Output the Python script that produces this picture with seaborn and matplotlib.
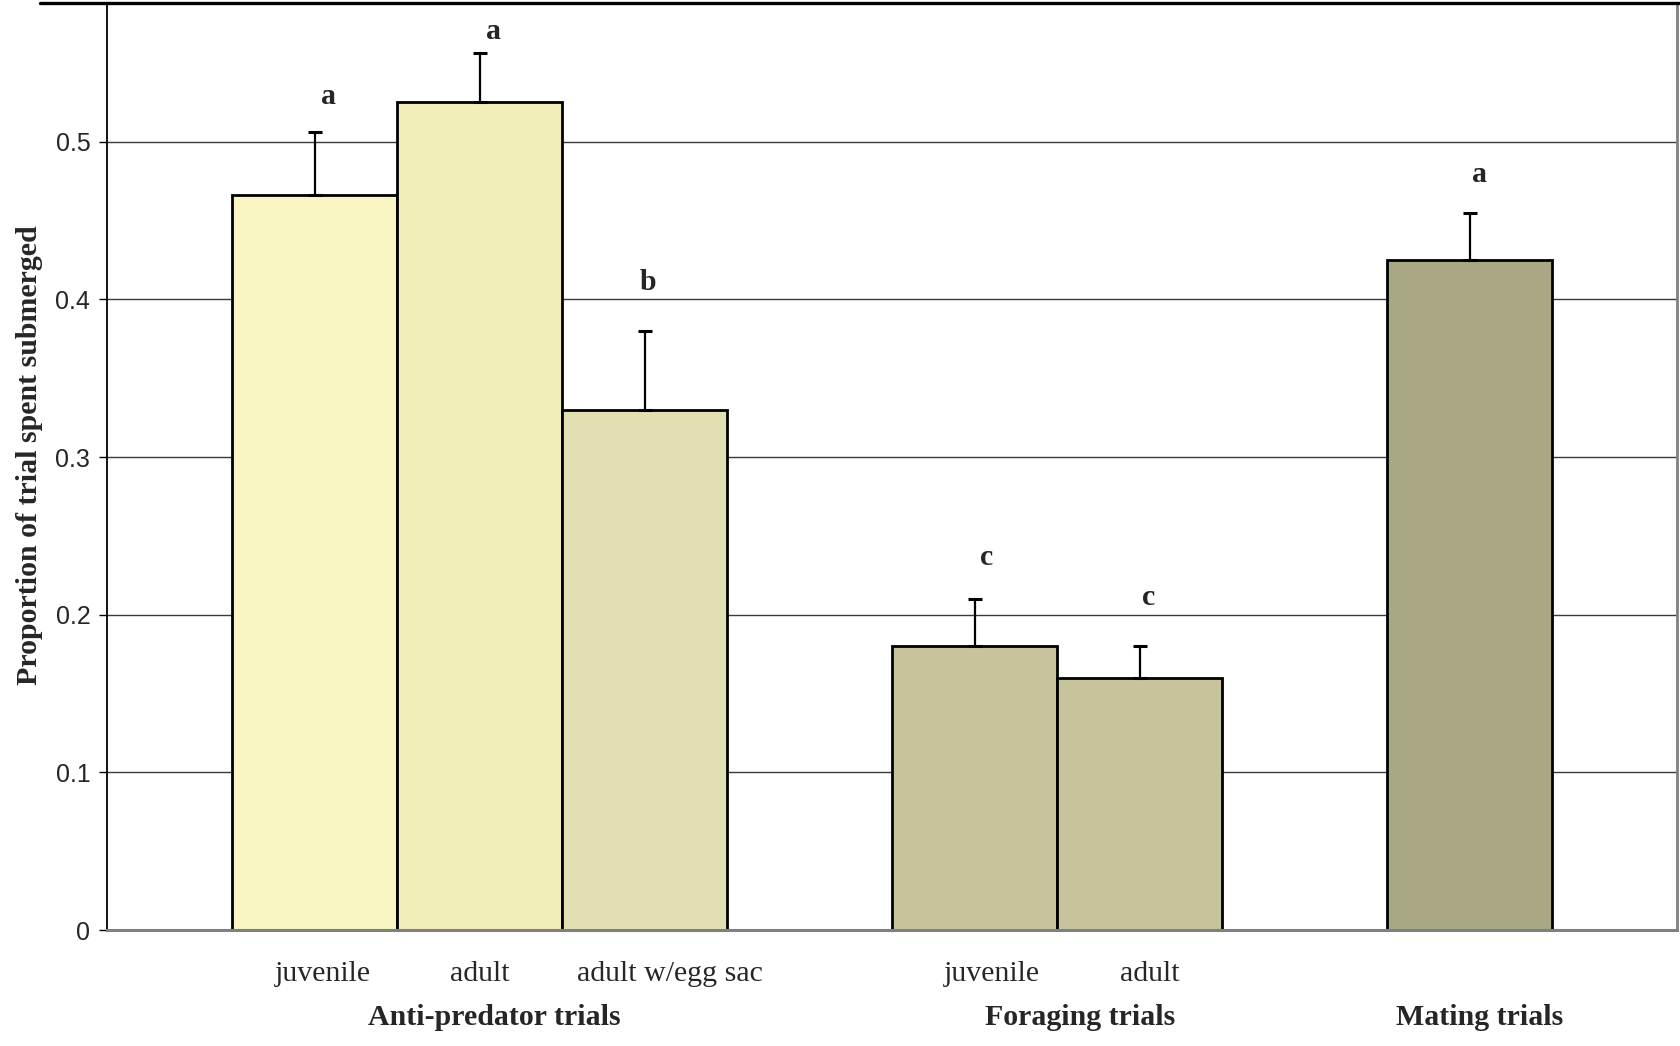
import matplotlib
matplotlib.use("Agg")
import matplotlib.pyplot as plt
from matplotlib.lines import Line2D
import seaborn as sns
import pandas as pd

# ---------------- data ----------------
groups = ["Anti-predator trials", "Anti-predator trials", "Anti-predator trials",
          "Foraging trials", "Foraging trials", "Mating trials"]
bar_labels = ["juvenile", "adult", "adult w/egg sac", "juvenile", "adult", ""]
means = [0.466, 0.525, 0.330, 0.180, 0.160, 0.425]
errors = [0.040, 0.031, 0.050, 0.030, 0.020, 0.030]
letters = ["a", "a", "b", "c", "c", "a"]
group_names = ["Anti-predator trials", "Foraging trials", "Mating trials"]
y_ticks = [0, 0.1, 0.2, 0.3, 0.4, 0.5]
y_tick_labels = ["0", "0.1", "0.2", "0.3", "0.4", "0.5"]

# ---------------- layout / style ----------------
positions = [0, 1, 2, 4, 5, 7]          # slot of each bar (a blank slot between groups)
bar_colors = ["#F9F6C3", "#F1EEBA", "#E2E0B3", "#C6C39D", "#C6C39D", "#AAA785"]
label_dx = [0.05, 0.0, 0.15, 0.10, 0.06]  # small horizontal offsets of bar labels
group_x = [1.09, 4.64, 7.06]
letter_dx = [0.08, 0.08, 0.02, 0.07, 0.05, 0.06]
letter_gap = [0.0225, 0.014, 0.031, 0.026, 0.031, 0.024]
SERIF = ["Liberation Serif", "DejaVu Serif"]
SANS = ["Liberation Sans", "DejaVu Sans"]

df = pd.DataFrame({"pos": positions, "mean": means, "key": [str(i) for i in range(len(means))]})

sns.set_theme(style="white")
plt.rcParams["font.family"] = SERIF

fig = plt.figure(figsize=(16.8, 10.46), dpi=100)
ax = fig.add_axes([107 / 1680, (1046 - 930) / 1046, 1570 / 1680, 927 / 1046])

ax.set_axisbelow(True)
for t in y_ticks[1:]:
    ax.axhline(t, color="#3a3a3a", lw=1.0, zorder=0)

sns.barplot(data=df, x="pos", y="mean", hue="key", palette=bar_colors,
            native_scale=True, width=1.0, dodge=False, errorbar=None,
            saturation=1.0, edgecolor="black", linewidth=2.0, legend=False,
            ax=ax, zorder=2)

ax.errorbar(positions, means, yerr=[[0] * len(errors), errors], fmt="none",
            ecolor="black", elinewidth=1.6, capsize=5, capthick=2.2, zorder=3)

ax.set_xlim(-1.26, 8.255)
ax.set_ylim(0, 0.588)
ax.set_xticks([])
ax.set_yticks(y_ticks)
ax.set_yticklabels(y_tick_labels, family=SANS, fontsize=18)
ax.tick_params(axis="y", which="major", left=True, length=6, width=1.0,
               color="black", pad=6, direction="out")
ax.set_xlabel("")
ax.set_ylabel("Proportion of trial spent submerged", fontsize=21.5,
              fontweight="bold", family=SERIF)
ax.yaxis.set_label_coords(-0.041, 0.512)

ax.spines["top"].set_visible(False)
ax.spines["left"].set_color("black")
ax.spines["left"].set_linewidth(1.3)
ax.spines["right"].set_color("#808080")
ax.spines["right"].set_linewidth(2.0)
ax.spines["bottom"].set_color("#808080")
ax.spines["bottom"].set_linewidth(2.2)

# significance letters
for p, m, e, l, dx, g in zip(positions, means, errors, letters, letter_dx, letter_gap):
    ax.text(p + dx, m + e + g, l, ha="center", va="center", family=SERIF,
            fontsize=21.5, fontweight="bold", zorder=4)

# category labels
for p, lab, dx in zip(positions, bar_labels, label_dx + [0]):
    if lab:
        ax.annotate(lab, xy=(p + dx, 0), xycoords=("data", "axes fraction"),
                    xytext=(0, -31.5), textcoords="offset points", family=SERIF,
                    fontweight="normal", ha="center", va="center", fontsize=21.5)

for gx, gname in zip(group_x, group_names):
    ax.annotate(gname, xy=(gx, 0), xycoords=("data", "axes fraction"),
                xytext=(0, -63), textcoords="offset points", family=SERIF,
                ha="center", va="center", fontsize=21.5, fontweight="bold")

# chart-area border at top
fig.add_artist(Line2D([40 / 1680, 1.0], [1 - 2.5 / 1046, 1 - 2.5 / 1046],
                      transform=fig.transFigure, color="black", lw=2.4))

fig.savefig("out.png", dpi=100, facecolor="white")
